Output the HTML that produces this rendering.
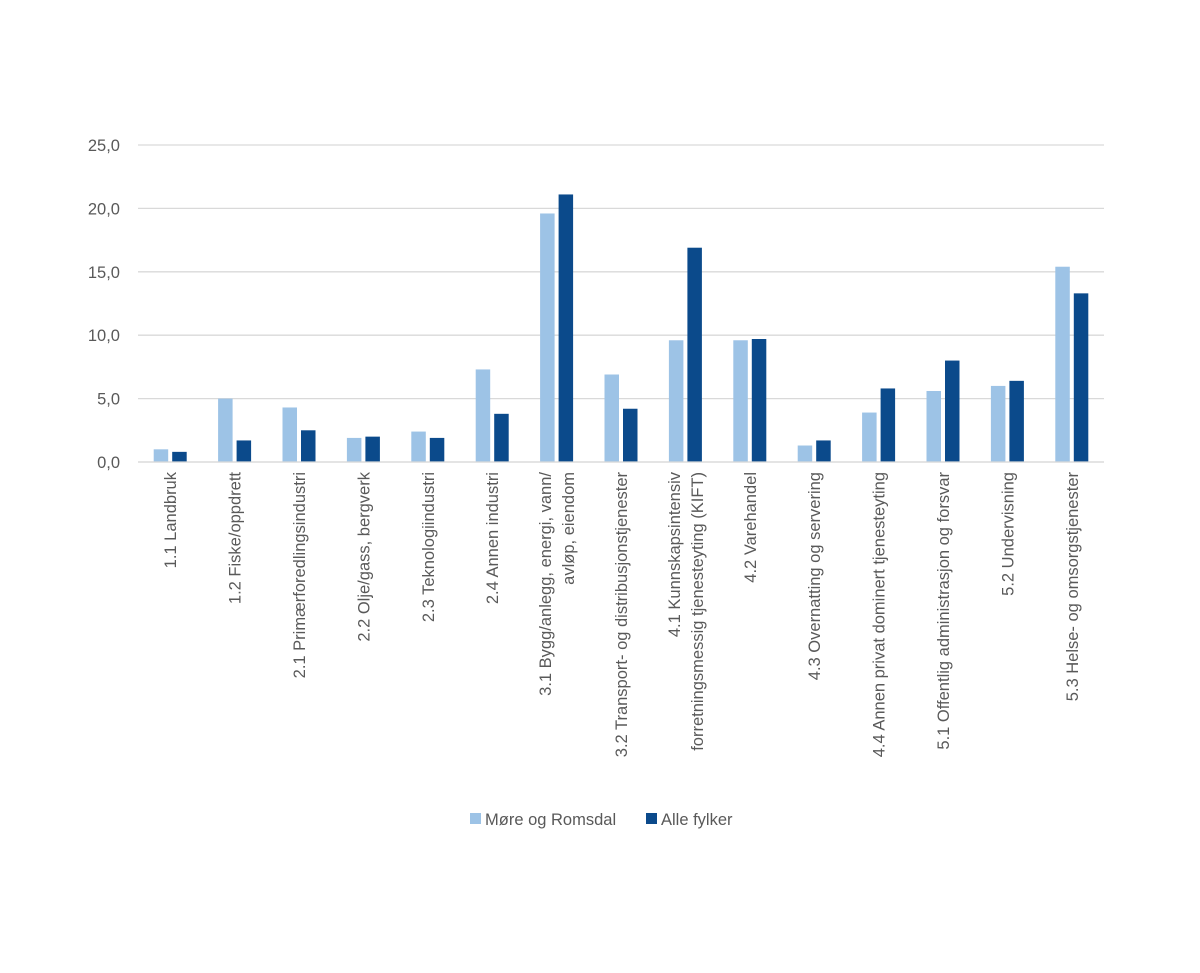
<!DOCTYPE html>
<html><head><meta charset="utf-8"><style>
body{margin:0;background:#fff;}
svg{display:block;font-family:"Liberation Sans",sans-serif;}
</style></head><body>
<svg id="chart" width="1200" height="973"></svg>
<script>
const categories=["1.1 Landbruk","1.2 Fiske/oppdrett","2.1 Primærforedlingsindustri","2.2 Olje/gass, bergverk","2.3 Teknologiindustri","2.4 Annen industri","3.1 Bygg/anlegg, energi, vann/|avløp, eiendom","3.2 Transport- og distribusjonstjenester","4.1 Kunnskapsintensiv|forretningsmessig tjenesteyting (KIFT)","4.2 Varehandel","4.3 Overnatting og servering","4.4 Annen privat dominert tjenesteyting","5.1 Offentlig administrasjon og forsvar","5.2 Undervisning","5.3 Helse- og omsorgstjenester"];
const moreRomsdal=[1.0,5.0,4.3,1.9,2.4,7.3,19.6,6.9,9.6,9.6,1.3,3.9,5.6,6.0,15.4];
const alleFylker=[0.8,1.7,2.5,2.0,1.9,3.8,21.1,4.2,16.9,9.7,1.7,5.8,8.0,6.4,13.3];
const yTicks=[0,5,10,15,20,25];
const yTickLabels=["0,0","5,0","10,0","15,0","20,0","25,0"];

const NS="http://www.w3.org/2000/svg";
const svg=document.getElementById('chart');
const x0=138,x1=1104,yb=462,yt=145,ymax=25;
const y=v=>yb-(v/ymax)*(yb-yt);
const step=(x1-x0)/categories.length;
const cx=i=>x0+step*(i+0.5);
function mk(t,a){const e=document.createElementNS(NS,t);for(const k in a)e.setAttribute(k,a[k]);svg.appendChild(e);return e;}
yTicks.forEach((t,i)=>{
 const g=mk('line',{x1:x0,x2:x1,y1:y(t),y2:y(t),stroke:'#d9d9d9','stroke-width':1.3});
 
 
 const l=mk('text',{x:120,y:y(t)+6,'text-anchor':'end','font-size':16.5,fill:'#595959'});
 l.textContent=yTickLabels[i];
 
 
});
const bw=14.5;
categories.forEach((c,i)=>{
 const a=mk('rect',{x:cx(i)-bw-2,y:y(moreRomsdal[i]),width:bw,height:yb-y(moreRomsdal[i]),fill:'#9dc3e6'});
 
 
 const b=mk('rect',{x:cx(i)+2,y:y(alleFylker[i]),width:bw,height:yb-y(alleFylker[i]),fill:'#0b4a8b'});
 
 
 const lines=c.split('|');
 lines.forEach((ln,j)=>{
  const off=(j-(lines.length-1)/2)*23;
  const px=cx(i)+off+6, py=472;
  const t=mk('text',{x:px,y:py,'text-anchor':'end','font-size':16.5,fill:'#595959',transform:`rotate(-90 ${px} ${py})`});
  t.textContent=ln;
  
  
 });
});
const ax=mk('line',{x1:x0,x2:x1,y1:yb,y2:yb,stroke:'#d9d9d9','stroke-width':1.3});


const leg=[["Møre og Romsdal","#9dc3e6",470],["Alle fylker","#0b4a8b",646]];
leg.forEach(l=>{
 const r=mk('rect',{x:l[2],y:813,width:11,height:11,fill:l[1]});
 
 
 const t=mk('text',{x:l[2]+15,y:825,'font-size':16.5,fill:'#595959'});
 t.textContent=l[0];
 
 
});
</script>
</body></html>
